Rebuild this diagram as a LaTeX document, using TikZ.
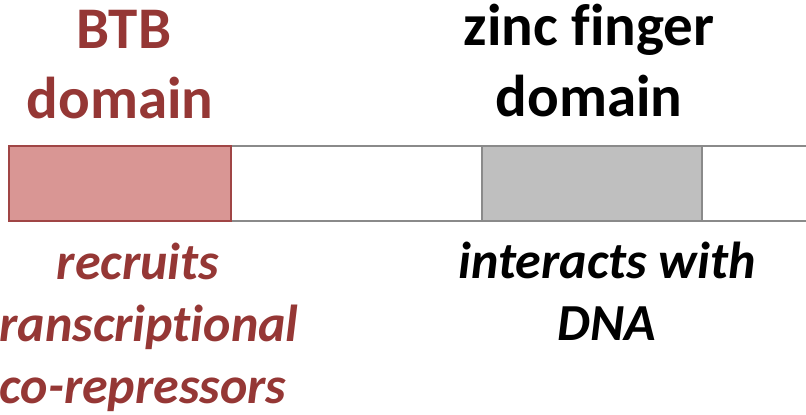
\documentclass[tikz,border=0pt]{standalone}
\usepackage{fontspec}
\setmainfont{Carlito}[Ligatures=NoCommon]
\definecolor{btbred}{HTML}{953735}
\definecolor{btbfill}{HTML}{D99694}
\definecolor{btbedge}{HTML}{A04545}
\definecolor{zfgrey}{HTML}{BFBFBF}
\definecolor{baredge}{HTML}{8A8A8A}
\tikzset{
  head/.style={font=\bfseries\fontsize{59}{70}\selectfont, anchor=base, inner sep=0pt},
  note/.style={font=\bfseries\itshape\fontsize{52}{62}\selectfont, anchor=base, inner sep=0pt},
  segment/.style={line width=2pt, minimum height=75pt, anchor=north west, inner sep=0pt},
}
\begin{document}
\begin{tikzpicture}[x=1pt,y=-1pt]
  \useasboundingbox (0,0) rectangle (806,415);
  \clip (0,0) rectangle (806,415);
  % protein bar with its two domains
  \node[segment, draw=baredge, fill=white, minimum width=830pt] (bar) at (8,145) {};
  \node[segment, draw=btbedge, fill=btbfill, minimum width=222pt] (btb) at (8,145) {};
  \node[segment, draw=baredge, fill=zfgrey, minimum width=220pt] (zf) at (481,145) {};
  % domain names
  \node[head, text=btbred] (btbA) at (124,48) {BTB};
  \node[head, text=btbred] (btbB) at (120,118) {domain};
  \node[head] (zfA) at (589,45) {zinc finger};
  \node[head] (zfB) at (589,116) {domain};
  % functions
  \node[note, text=btbred] (fnA) at (138,279) {recruits};
  \node[note, text=btbred] (fnB) at (140,341) {transcriptional};
  \node[note, text=btbred] (fnC) at (143,403) {co-repressors};
  \node[note] (dnaA) at (607,278) {interacts with};
  \node[note] (dnaB) at (607,340) {DNA};
\end{tikzpicture}
\end{document}
